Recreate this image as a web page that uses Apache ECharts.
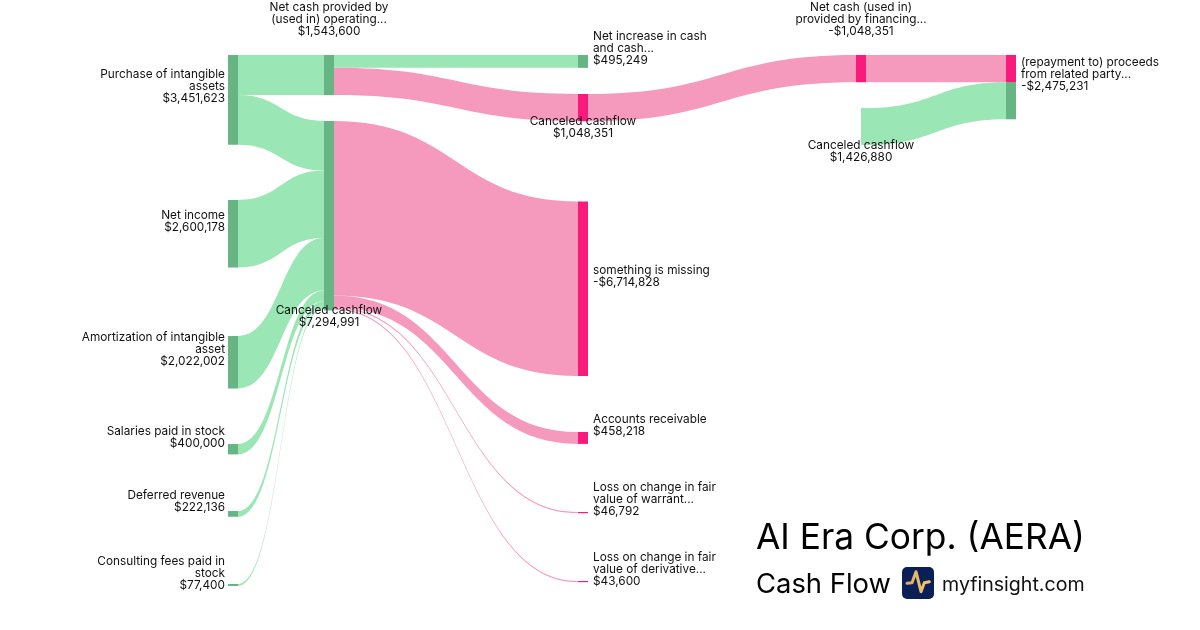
<!DOCTYPE html>
<html>
<head>
<meta charset="utf-8">
<title>AI Era Corp. (AERA) Cash Flow</title>
<script src="https://cdn.jsdelivr.net/npm/echarts@6/dist/echarts.min.js"></script>
<style>
  html, body { margin: 0; padding: 0; background: #fff; }
  #chart { width: 1200px; height: 630px; }
</style>
</head>
<body>
<div id="chart"></div>
<script>
// nodes: unique key, printed label, signed value as printed
const nodeKeys = ['purchase', 'netIncome', 'amort', 'salaries', 'deferred', 'consulting',
  'operating', 'canceledA',
  'increase', 'canceledB', 'missing', 'receivable', 'warrant', 'derivative',
  'financing', 'canceledC',
  'related']
const nodeLabels = [
  'Purchase of intangible\nassets', 'Net income', 'Amortization of intangible\nasset',
  'Salaries paid in stock', 'Deferred revenue', 'Consulting fees paid in\nstock',
  'Net cash provided by\n(used in) operating...', 'Canceled cashflow',
  'Net increase in cash\nand cash...', 'Canceled cashflow', 'something is missing', 'Accounts receivable',
  'Loss on change in fair\nvalue of warrant...', 'Loss on change in fair\nvalue of derivative...',
  'Net cash (used in)\nprovided by financing...', 'Canceled cashflow',
  '(repayment to) proceeds\nfrom related party...'
]
const nodeValues = [3451623, 2600178, 2022002, 400000, 222136, 77400,
  1543600, 7294991,
  495249, 1048351, -6714828, 458218, 46792, 43600,
  -1048351, 1426880,
  -2475231]
const nodeColumns = [0, 0, 0, 0, 0, 0, 1, 1, 2, 2, 2, 2, 2, 2, 3, 3, 4]

// links
const linkSources = ['purchase', 'purchase', 'netIncome', 'amort', 'salaries', 'deferred', 'consulting',
  'operating', 'operating', 'canceledA', 'canceledA', 'canceledA', 'canceledA',
  'canceledB', 'financing', 'canceledC']
const linkTargets = ['operating', 'canceledA', 'canceledA', 'canceledA', 'canceledA', 'canceledA', 'canceledA',
  'increase', 'canceledB', 'missing', 'receivable', 'warrant', 'derivative',
  'financing', 'related', 'related']
const linkValues = [1543600, 1908023, 2600178, 2022002, 400000, 222136, 77400,
  495249, 1048351, 6714828, 458218, 46792, 43600,
  1048351, 1048351, 1426880]
const linkOutflow = [0, 0, 0, 0, 0, 0, 0, 0, 1, 1, 1, 1, 1, 1, 1, 0]

// placement of the sankey columns and node tops, in page pixels
const columnLeft = [228, 324, 578, 856, 1006]
const nodeTops = [55, 200, 336, 444, 511, 584, 55, 121, 55, 94, 201.5, 432, 512, 581, 55, 108, 55]
// labels that land a pixel low after rounding
const raisedLabels = ['purchase', 'amort', 'increase', 'receivable', 'warrant', 'related']

const WIDTH = 1200
const HEIGHT = 630
const GREEN_LINK = '#9ae6b4'
const GREEN_NODE = '#68b584'
const PINK_LINK = '#f59abd'
const PINK_NODE = '#f91b7c'
const FONT = 'Inter'

function money (v) {
  return (v < 0 ? '-' : '') + '$' + Math.abs(v).toLocaleString('en-US')
}

function hardStop (offset, first, second) {
  return {
    type: 'linear', x: 0, y: 0, x2: 0, y2: 1,
    colorStops: [
      { offset: 0, color: first }, { offset: offset, color: first },
      { offset: offset, color: second }, { offset: 1, color: second }
    ]
  }
}

function labelFor (key, i) {
  const col = nodeColumns[i]
  const text = nodeLabels[i] + '\n' + money(nodeValues[i])
  const lift = raisedLabels.includes(key) ? -13 : -12
  if (col === 0) return { position: 'left', distance: 3, offset: [0, lift], formatter: text }
  if (col === 2 && key !== 'canceledB') return { position: 'right', distance: 5, offset: [0, lift], formatter: text }
  if (col === 4) return { position: 'right', distance: 5, offset: [0, lift], formatter: text }
  if (key === 'operating' || key === 'financing') return { position: 'top', distance: 18, formatter: text }
  return { position: 'bottom', distance: -6, formatter: text }
}

function nodeColor (key, i) {
  if (key === 'related') {
    // top part takes the financing outflow, the rest the canceled cashflow
    return hardStop(1048351 / 2475231, PINK_NODE, GREEN_NODE)
  }
  if (key === 'canceledC') {
    // the original draws no block here, the band just starts mid column
    return {
      type: 'linear', x: 0, y: 0, x2: 1, y2: 0,
      colorStops: [
        { offset: 0, color: 'rgba(154,230,180,0)' }, { offset: 0.5, color: 'rgba(154,230,180,0)' },
        { offset: 0.5, color: GREEN_LINK }, { offset: 1, color: GREEN_LINK }
      ]
    }
  }
  const paidOut = linkTargets.some((t, n) => t === key && linkOutflow[n])
  return paidOut ? PINK_NODE : GREEN_NODE
}

const nodes = nodeKeys.map((key, i) => ({
  name: key,
  value: Math.abs(nodeValues[i]),
  depth: nodeColumns[i],
  localX: columnLeft[nodeColumns[i]] / WIDTH,
  localY: nodeTops[i] / HEIGHT,
  itemStyle: { color: nodeColor(key, i) },
  label: labelFor(key, i)
}))

const links = linkSources.map((source, i) => ({
  source: source,
  target: linkTargets[i],
  value: linkValues[i],
  lineStyle: { color: linkOutflow[i] ? PINK_LINK : GREEN_LINK, opacity: 1, curveness: 0.5 }
}))

const myChart = echarts.init(document.getElementById('chart'))
myChart.setOption({
  animation: false,
  backgroundColor: '#fff',
  tooltip: { show: false },
  title: [
    {
      text: 'AI Era Corp. (AERA)', left: 751, top: 516,
      textStyle: { fontFamily: FONT, fontSize: 35.3, fontWeight: 400, color: '#000' }
    },
    {
      text: 'Cash Flow', left: 751, top: 566,
      textStyle: { fontFamily: FONT, fontSize: 27.4, fontWeight: 400, color: '#000' }
    },
    {
      text: 'myfinsight.com', left: 937, top: 570,
      textStyle: { fontFamily: FONT, fontSize: 19.6, fontWeight: 400, color: '#111' }
    }
  ],
  graphic: [
    {
      type: 'rect', left: 902, top: 567,
      shape: { width: 32, height: 32, r: 5 },
      style: { fill: '#0a1f56' }
    },
    {
      type: 'polyline', x: 895, y: 560,
      shape: { points: [[12, 23.3], [17, 22.7], [21, 11.7], [26, 31.7], [29.3, 22.7], [34.3, 21.7]] },
      style: {
        fill: null,
        stroke: { type: 'linear', x: 0, y: 0, x2: 1, y2: 0, colorStops: [{ offset: 0, color: '#d9a868' }, { offset: 1, color: '#f6cb6a' }] },
        lineWidth: 3, lineJoin: 'round', lineCap: 'round'
      }
    }
  ],
  series: [
    {
      type: 'sankey',
      left: 0,
      top: 0,
      width: WIDTH,
      height: HEIGHT,
      nodeWidth: 10,
      nodeGap: 80.25,
      layoutIterations: 0,
      draggable: false,
      emphasis: { disabled: true },
      label: {
        show: true,
        fontFamily: FONT,
        fontSize: 11.8,
        lineHeight: 12,
        color: '#111'
      },
      data: nodes,
      links: links
    }
  ]
})
</script>
</body>
</html>
